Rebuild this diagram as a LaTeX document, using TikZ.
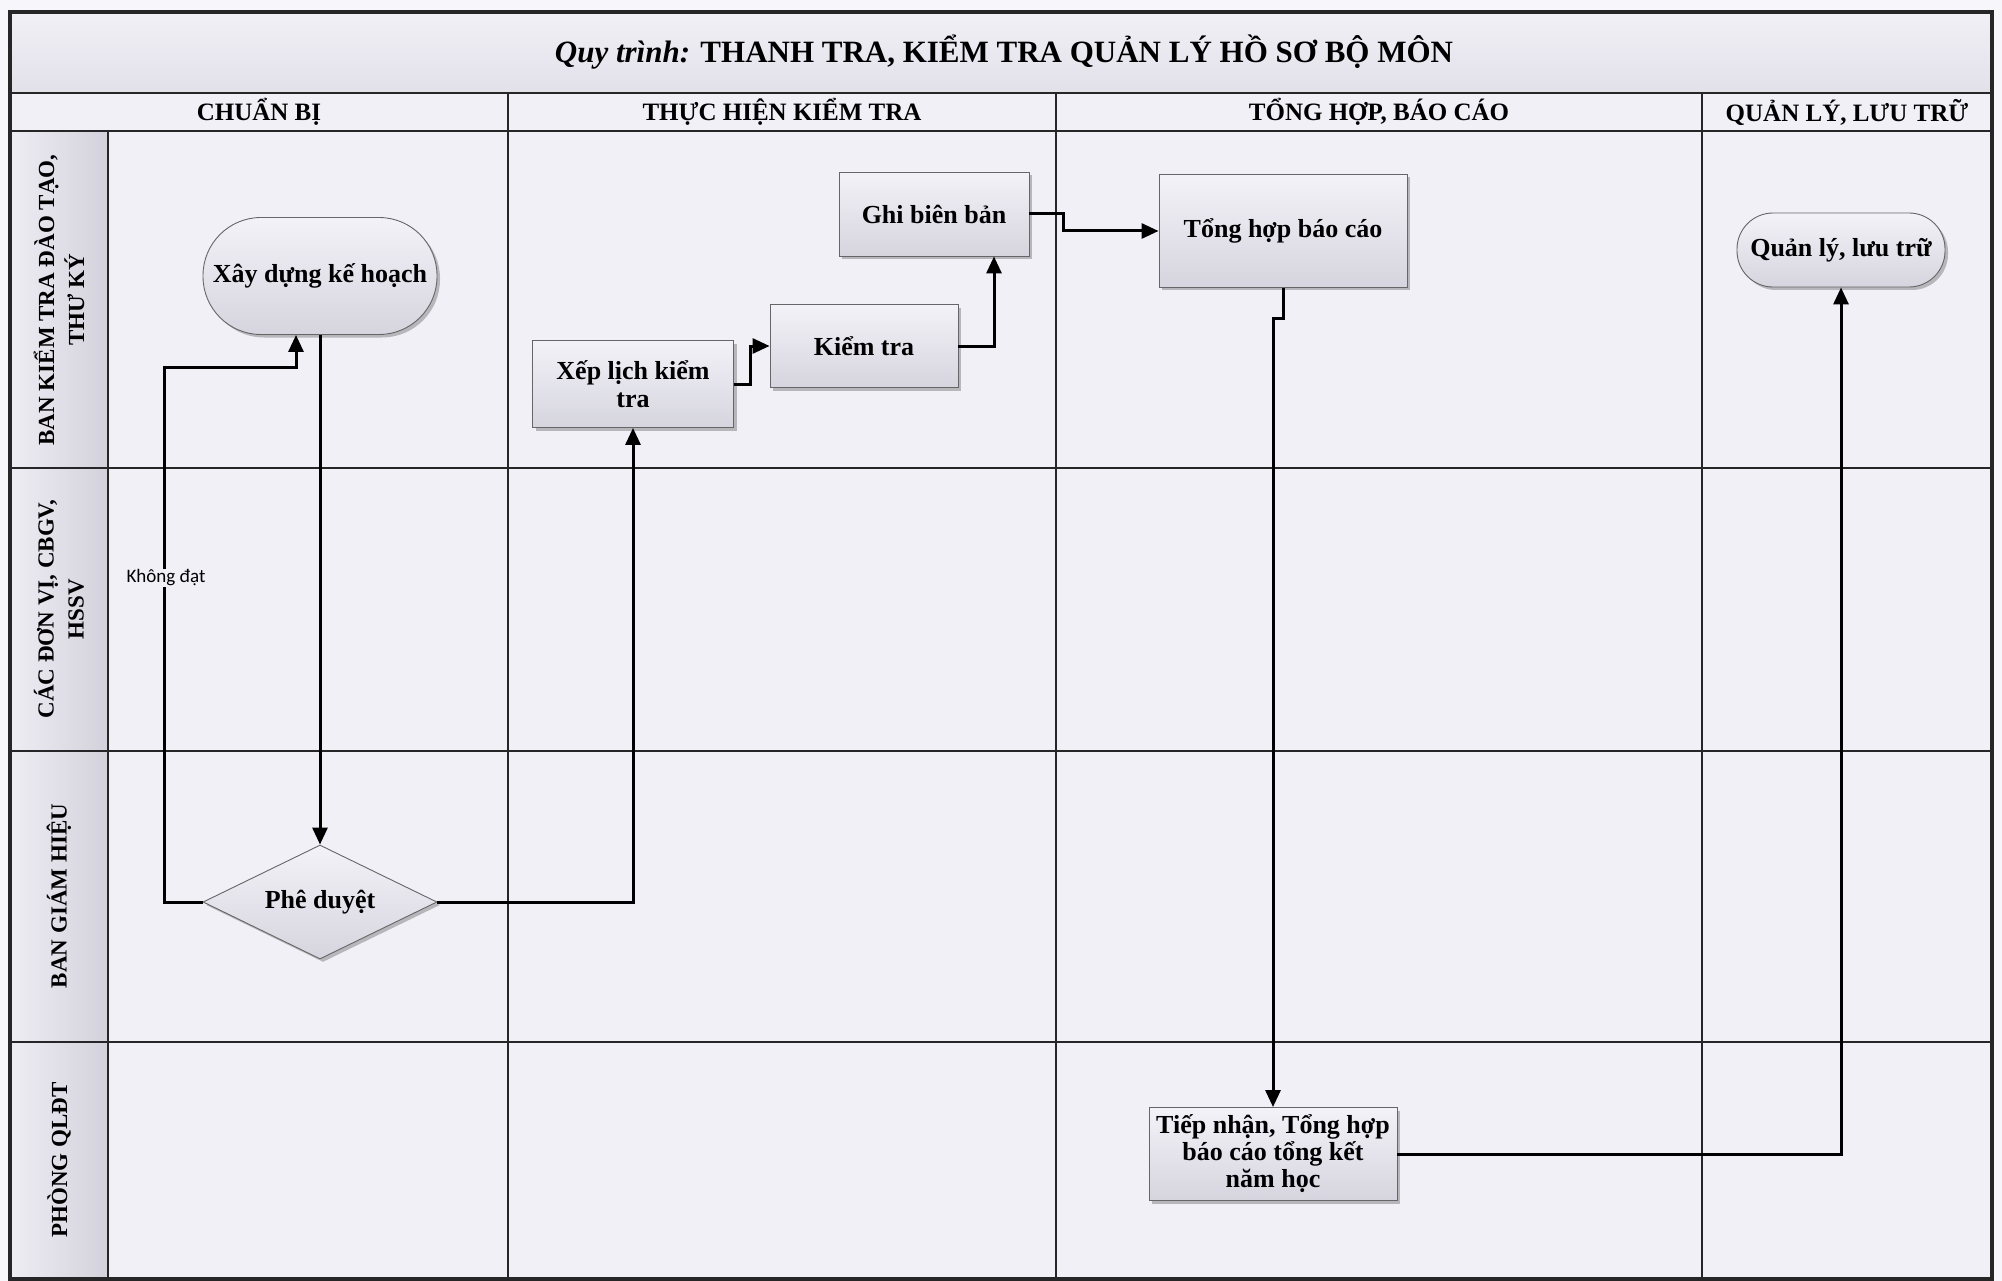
\documentclass[tikz,border=0pt]{standalone}
\usepackage{fontspec}
\setmainfont{Liberation Serif}
\newfontfamily\calib{Carlito}
\usetikzlibrary{shapes.geometric,arrows.meta,shadows}
\definecolor{pagebg}{HTML}{F7F6FA}
\definecolor{cellbg}{HTML}{F1F0F6}
\definecolor{titletop}{HTML}{F1F0F6}
\definecolor{titlebot}{HTML}{E2E1EA}
\definecolor{lanel}{HTML}{EEEDF4}
\definecolor{laner}{HTML}{D3D2DC}
\definecolor{nodetop}{HTML}{F3F2F8}
\definecolor{nodebot}{HTML}{D6D5DF}
\tikzset{
  gridline/.style={line width=2.6pt, black!85},
  frameline/.style={line width=3.2pt, black!85},
  nodefont/.style={font=\fontsize{26}{28}\selectfont\bfseries},
  procbox/.style={draw=black!60, line width=0.9pt, top color=nodetop, bottom color=nodebot,
    drop shadow={shadow xshift=3pt, shadow yshift=-3pt, opacity=0.35, fill=black!70},
    nodefont, align=center, inner sep=2pt, rectangle},
  termbox/.style={procbox, rounded corners=#1},
  decbox/.style={procbox, diamond, shape aspect=2, inner sep=1pt},
  conn/.style={line width=3pt, black, -{Triangle[length=17pt,width=15pt]}},
  lanelabel/.style={rotate=90, align=center, font=\fontsize{23}{30}\selectfont\bfseries},
  headtext/.style={font=\fontsize{25}{28}\selectfont\bfseries},
}
\begin{document}
\begin{tikzpicture}[x=1pt,y=-1pt]
\useasboundingbox (0,0) rectangle (2002,1281);
\fill[pagebg] (0,0) rectangle (2002,1281);
\fill[cellbg] (10,12) rectangle (1992,1279);
% title row
\shade[top color=titletop, bottom color=titlebot] (10,12) rectangle (1992,93);
\fill[titletop] (10,93) rectangle (1992,131);
% lane label column
\shade[left color=lanel, right color=laner] (10,131) rectangle (108,1279);

% grid lines
\draw[gridline] (10,93) -- (1992,93);
\draw[gridline] (10,131) -- (1992,131);
\draw[gridline] (10,468) -- (1992,468);
\draw[gridline] (10,751) -- (1992,751);
\draw[gridline] (10,1042) -- (1992,1042);
\draw[gridline] (108,131) -- (108,1279);
\draw[gridline] (508,93) -- (508,1279);
\draw[gridline] (1056,93) -- (1056,1279);
\draw[gridline] (1702,93) -- (1702,1279);
\draw[frameline] (10,12) rectangle (1992,1279);

% title and headers
\node (title) at (1004,52) {\fontsize{31}{36}\selectfont\bfseries{\itshape Quy trình:} THANH TRA, KIỂM TRA QUẢN LÝ HỒ SƠ BỘ MÔN};
\node[headtext] (h1) at (259,112) {CHUẨN BỊ};
\node[headtext] (h2) at (782,112) {THỰC HIỆN KIỂM TRA};
\node[headtext] (h3) at (1379,112) {TỔNG HỢP, BÁO CÁO};
\node[headtext] (h4) at (1847,112) {QUẢN LÝ, LƯU TRỮ};

% lane labels
\node[lanelabel] (l1) at (59,300) {BAN KIỂM TRA ĐÀO TẠO,\\THƯ KÝ};
\node[lanelabel] (l2) at (59,609) {CÁC ĐƠN VỊ, CBGV,\\HSSV};
\node[lanelabel] (l3) at (59,896) {BAN GIÁM HIỆU};
\node[lanelabel] (l4) at (59,1160) {PHÒNG QLĐT};

% nodes
\node[termbox=58pt, minimum width=234pt, minimum height=117pt] (xay) at (320,276) {Xây dựng kế hoạch};
\node[decbox, minimum width=234pt, minimum height=114pt] (phe) at (320,902) {Phê duyệt};
\node[procbox, minimum width=201pt, minimum height=87pt, font=\fontsize{26}{28}\selectfont\bfseries] (xep) at (633,384) {Xếp lịch kiểm\\tra};
\node[procbox, minimum width=188pt, minimum height=83pt] (kiem) at (864,346) {Kiểm tra};
\node[procbox, minimum width=190pt, minimum height=84pt] (ghi) at (934,214) {Ghi biên bản};
\node[procbox, minimum width=248pt, minimum height=113pt] (tong) at (1283,231) {Tổng hợp báo cáo};
\node[termbox=36pt, minimum width=208pt, minimum height=74pt] (ql) at (1841,250) {Quản lý, lưu trữ};
\node[procbox, minimum width=248pt, minimum height=93pt, font=\fontsize{26}{27}\selectfont\bfseries] (tiep) at (1273,1154) {Tiếp nhận, Tổng hợp\\báo cáo tổng kết\\năm học};

% connectors
\coordinate (loopA) at (164,367);
\coordinate (loopB) at (296,367);
\draw[conn] (xay.south) -- (phe.north);
\draw[conn] (phe.west) -| (loopA) -- (loopB) -- (loopB |- xay.south);
\node[fill=cellbg, inner sep=1pt, font=\calib\fontsize{19}{22}\selectfont] (kd) at (166,578) {Không đạt};
\draw[conn] (phe.east) -| (xep.south);
\draw[conn] (xep.east) -- ++(17,0) |- (kiem.west);
\draw[conn] (kiem.east) -| ([xshift=60pt]ghi.south);
\draw[conn] (ghi.east) -- ++(34,0) |- (tong.west);
\draw[conn] (tong.south) -- ++(0,31) -| (tiep.north);
\draw[conn] (tiep.east) -| (ql.south);
\end{tikzpicture}
\end{document}
